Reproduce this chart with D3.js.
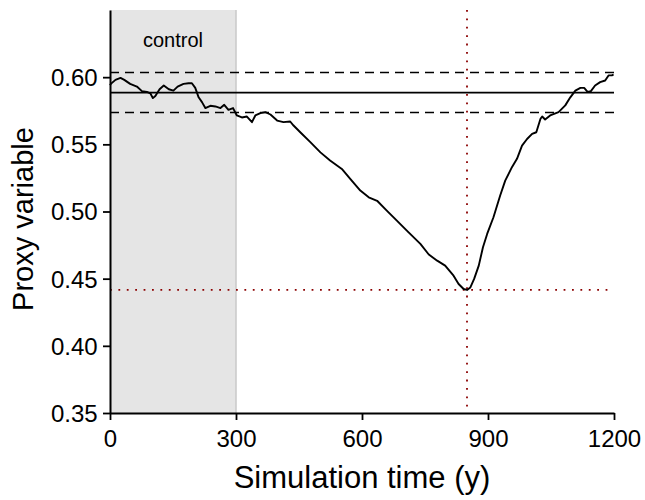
<!DOCTYPE html>
<html>
<head>
<meta charset="utf-8">
<script src="https://cdn.jsdelivr.net/npm/d3@7"></script>
<style>
  body { margin: 0; background: #fff; }
  svg { display: block; font-family: "Liberation Sans", Arial, Helvetica, sans-serif; }
</style>
</head>
<body>
<svg id="chart" width="645" height="500"></svg>
<script>
// ---- data ----
const times = [0, 2, 13, 25, 34, 48, 64, 76, 88, 96, 102, 108, 118, 128, 140, 151, 161, 175, 187, 195, 203, 211, 219, 227, 239, 251, 263, 272, 282, 293, 302, 314, 326, 338, 346, 358, 370, 382, 398, 413, 429, 437, 453, 477, 501, 524, 552, 572, 596, 616, 636, 659, 683, 711, 739, 759, 779, 798, 818, 830, 842, 850, 858, 867, 878, 888, 898, 913, 929, 941, 957, 969, 981, 993, 1005, 1015, 1025, 1029, 1036, 1048, 1068, 1084, 1096, 1108, 1120, 1129, 1137, 1145, 1155, 1167, 1179, 1187, 1195, 1199];
const proxy = [0.594, 0.595, 0.598, 0.5995, 0.598, 0.595, 0.593, 0.5896, 0.589, 0.588, 0.5844, 0.586, 0.591, 0.5938, 0.591, 0.590, 0.593, 0.595, 0.5955, 0.5955, 0.592, 0.585, 0.5814, 0.577, 0.5787, 0.5782, 0.577, 0.5794, 0.5757, 0.577, 0.5715, 0.570, 0.5707, 0.5665, 0.5715, 0.5732, 0.574, 0.5722, 0.5677, 0.5665, 0.567, 0.564, 0.559, 0.5516, 0.544, 0.538, 0.5317, 0.5243, 0.5156, 0.5106, 0.508, 0.5007, 0.4932, 0.4845, 0.4759, 0.468, 0.4634, 0.4597, 0.4522, 0.446, 0.4423, 0.4416, 0.4435, 0.4498, 0.4597, 0.4734, 0.4833, 0.4957, 0.5119, 0.523, 0.533, 0.5392, 0.549, 0.554, 0.5578, 0.559, 0.569, 0.5707, 0.5685, 0.5715, 0.574, 0.579, 0.585, 0.590, 0.592, 0.592, 0.589, 0.5896, 0.5938, 0.5963, 0.5975, 0.6013, 0.6013, 0.602];
const xTicks = [0, 300, 600, 900, 1200];
const yTicks = [0.35, 0.40, 0.45, 0.50, 0.55, 0.60];
const controlPeriod = [0, 300];
const controlLabel = "control";
const controlMean = 0.5885;
const controlBand = [0.5737, 0.6035];
const minTime = 850;
const minValue = 0.4416;
const xTitle = "Simulation time (y)";
const yTitle = "Proxy variable";

// ---- layout ----
const svg = d3.select("#chart");
const mLeft = 110, mRight = 614, mTop = 10, mBottom = 413;
const x = d3.scaleLinear().domain([0, 1200]).range([mLeft, mRight]);
const y = d3.scaleLinear().domain([0.35, 0.65]).range([mBottom, mTop]);

// control shading
svg.append("rect")
  .attr("x", x(controlPeriod[0])).attr("y", mTop)
  .attr("width", x(controlPeriod[1]) - x(controlPeriod[0]))
  .attr("height", mBottom - mTop)
  .attr("fill", "#e5e5e5");
svg.append("line")
  .attr("x1", x(controlPeriod[1])).attr("x2", x(controlPeriod[1]))
  .attr("y1", mTop).attr("y2", mBottom)
  .attr("stroke", "#c8c8c8").attr("stroke-width", 1.5);
svg.append("text")
  .attr("x", x((controlPeriod[0] + controlPeriod[1]) / 2)).attr("y", 47)
  .attr("text-anchor", "middle").attr("font-size", 20).attr("fill", "#000")
  .text(controlLabel);

// reference lines
svg.append("line")
  .attr("x1", x(0)).attr("x2", x(1200))
  .attr("y1", y(controlMean)).attr("y2", y(controlMean))
  .attr("stroke", "#000").attr("stroke-width", 1.6);
controlBand.forEach(v => {
  svg.append("line")
    .attr("x1", x(0)).attr("x2", x(1200))
    .attr("y1", y(v)).attr("y2", y(v))
    .attr("stroke", "#000").attr("stroke-width", 1.6)
    .attr("stroke-dasharray", "9,6");
});

// minimum markers
svg.append("line")
  .attr("x1", x(0)).attr("x2", x(1200))
  .attr("y1", y(minValue)).attr("y2", y(minValue))
  .attr("stroke", "#8b0000").attr("stroke-width", 1.8)
  .attr("stroke-dasharray", "1.8,6.6");
svg.append("line")
  .attr("x1", x(minTime)).attr("x2", x(minTime))
  .attr("y1", mTop).attr("y2", mBottom)
  .attr("stroke", "#8b0000").attr("stroke-width", 1.8)
  .attr("stroke-dasharray", "1.8,6.6");

// series
const pts = times.map((t, i) => [t, proxy[i]]);
svg.append("path")
  .datum(pts)
  .attr("fill", "none").attr("stroke", "#000").attr("stroke-width", 1.9)
  .attr("stroke-linejoin", "round")
  .attr("d", d3.line().x(d => x(d[0])).y(d => y(d[1])));

// axes
const xAxis = svg.append("g").attr("transform", `translate(0,${mBottom})`)
  .call(d3.axisBottom(x).tickValues(xTicks).tickFormat(d3.format("d")).tickSize(7).tickSizeOuter(0));
const yAxis = svg.append("g").attr("transform", `translate(${mLeft},0)`)
  .call(d3.axisLeft(y).tickValues(yTicks).tickFormat(d3.format(".2f")).tickSize(7).tickSizeOuter(0));
[xAxis, yAxis].forEach(g => {
  g.select(".domain").attr("stroke", "#000").attr("stroke-width", 2);
  g.selectAll(".tick line").attr("stroke", "#000").attr("stroke-width", 1.8);
  g.selectAll(".tick text").attr("font-size", 24).attr("fill", "#000")
    .attr("font-family", "'Liberation Sans', Arial, sans-serif");
});
xAxis.selectAll(".tick text").attr("dy", "0.98em");
yAxis.selectAll(".tick text").attr("dx", "-0.1em").attr("dy", "0.35em");

// titles
svg.append("text")
  .attr("x", (mLeft + mRight) / 2).attr("y", 488)
  .attr("text-anchor", "middle").attr("font-size", 31).attr("fill", "#000")
  .text(xTitle);
svg.append("text")
  .attr("transform", `translate(33,219) rotate(-90)`)
  .attr("text-anchor", "middle").attr("font-size", 29).attr("fill", "#000")
  .text(yTitle);
</script>
</body>
</html>
